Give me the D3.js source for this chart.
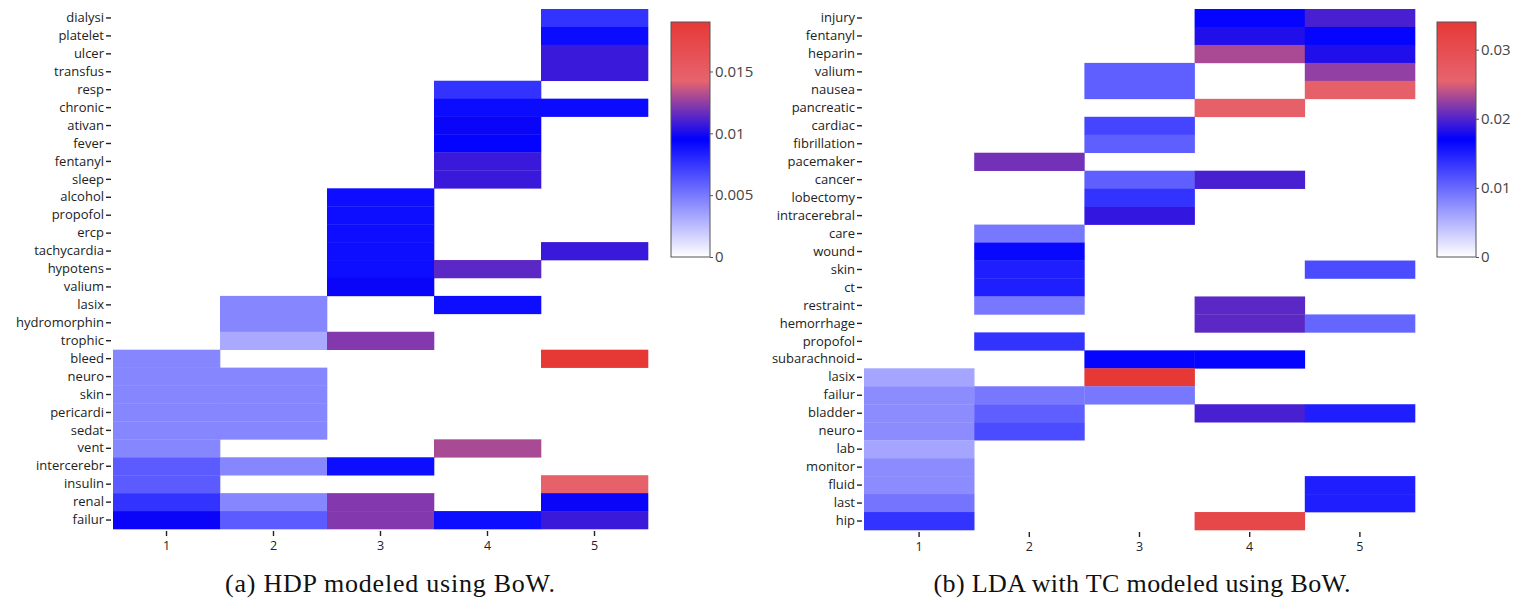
<!DOCTYPE html>
<html>
<head>
<meta charset="utf-8">
<script src="https://cdn.jsdelivr.net/npm/d3@7.9.0/dist/d3.min.js"></script>
<style>
  body { margin: 0; background: #fff; }
  svg { display: block; }
  .tick text { font-family: "Open Sans", "DejaVu Sans", sans-serif; }
</style>
</head>
<body>
<div id="chart"></div>
<script>
// topics on the x axis
const topics = [1, 2, 3, 4, 5];

// (a) HDP, rows top to bottom, one value per topic (null = empty cell)
const hdpWords = ['dialysi', 'platelet', 'ulcer', 'transfus', 'resp', 'chronic', 'ativan', 'fever',
  'fentanyl', 'sleep', 'alcohol', 'propofol', 'ercp', 'tachycardia', 'hypotens', 'valium', 'lasix',
  'hydromorphin', 'trophic', 'bleed', 'neuro', 'skin', 'pericardi', 'sedat', 'vent', 'intercerebr',
  'insulin', 'renal', 'failur'];
const hdpValues = [
  [null, null, null, null, 0.0076],
  [null, null, null, null, 0.0091],
  [null, null, null, null, 0.0107],
  [null, null, null, null, 0.0107],
  [null, null, null, 0.0076, null],
  [null, null, null, 0.0091, 0.0091],
  [null, null, null, 0.0097, null],
  [null, null, null, 0.0094, null],
  [null, null, null, 0.0107, null],
  [null, null, null, 0.0107, null],
  [null, null, 0.0090, null, null],
  [null, null, 0.0090, null, null],
  [null, null, 0.0090, null, null],
  [null, null, 0.0090, null, 0.0107],
  [null, null, 0.0090, 0.0114, null],
  [null, null, 0.0097, null, null],
  [null, 0.0045, null, 0.0090, null],
  [null, 0.0045, null, null, null],
  [null, 0.0032, 0.0122, null, null],
  [0.0045, null, null, null, 0.0190],
  [0.0045, 0.0045, null, null, null],
  [0.0045, 0.0045, null, null, null],
  [0.0045, 0.0045, null, null, null],
  [0.0045, 0.0045, null, null, null],
  [0.0045, null, null, 0.0130, null],
  [0.0061, 0.0045, 0.0090, null, null],
  [0.0061, null, null, null, 0.0146],
  [0.0076, 0.0045, 0.0122, null, 0.0097],
  [0.0097, 0.0061, 0.0122, 0.0090, 0.0107]
];
const hdpMax = 0.019;
const hdpTicks = [0, 0.005, 0.01, 0.015];

// (b) LDA with TC
const ldaWords = ['injury', 'fentanyl', 'heparin', 'valium', 'nausea', 'pancreatic', 'cardiac',
  'fibrillation', 'pacemaker', 'cancer', 'lobectomy', 'intracerebral', 'care', 'wound', 'skin', 'ct',
  'restraint', 'hemorrhage', 'propofol', 'subarachnoid', 'lasix', 'failur', 'bladder', 'neuro', 'lab',
  'monitor', 'fluid', 'last', 'hip'];
const ldaValues = [
  [null, null, null, 0.0167, 0.0197],
  [null, null, null, 0.0182, 0.0167],
  [null, null, null, 0.0233, 0.0182],
  [null, null, 0.0107, null, 0.0224],
  [null, null, 0.0107, null, 0.0262],
  [null, null, null, 0.0262, null],
  [null, null, 0.0124, null, null],
  [null, null, 0.0107, null, null],
  [null, 0.0212, null, null, null],
  [null, null, 0.0107, 0.0197, null],
  [null, null, 0.0136, null, null],
  [null, null, 0.0189, null, null],
  [null, 0.0090, null, null, null],
  [null, 0.0165, null, null, null],
  [null, 0.0150, null, null, 0.0120],
  [null, 0.0150, null, null, null],
  [null, 0.0090, null, 0.0204, null],
  [null, null, null, 0.0204, 0.0103],
  [null, 0.0136, null, null, null],
  [null, null, 0.0167, 0.0167, null],
  [0.0060, null, 0.0340, null, null],
  [0.0077, 0.0090, 0.0090, null, null],
  [0.0077, 0.0107, null, 0.0197, 0.0150],
  [0.0077, 0.0120, null, null, null],
  [0.0060, null, null, null, null],
  [0.0077, null, null, null, null],
  [0.0077, null, null, null, 0.0150],
  [0.0093, null, null, null, 0.0150],
  [0.0136, null, null, 0.0310, null]
];
const ldaMax = 0.034;
const ldaTicks = [0, 0.01, 0.02, 0.03];

const captions = ['(a) HDP modeled using BoW.', '(b) LDA with TC modeled using BoW.'];

// colour stops as fractions of the max
const stopFrac = [0, 0.5, 0.75, 1];
const stopColor = ['#ffffff', '#0000ff', '#e6646e', '#e63936'];

const width = 1529;
const height = 602;

const svg = d3.select('#chart')
  .append('svg')
  .attr('width', width)
  .attr('height', height);

const defs = svg.append('defs');

const panels = [
  { id: 'a', words: hdpWords, values: hdpValues, max: hdpMax, ticks: hdpTicks, caption: captions[0],
    left: 113, right: 648, top: 9, bottom: 529, cbX: 671, capX: 390, capW: 330 },
  { id: 'b', words: ldaWords, values: ldaValues, max: ldaMax, ticks: ldaTicks, caption: captions[1],
    left: 864, right: 1415, top: 9, bottom: 530, cbX: 1437, capX: 1142, capW: 417 }
];

panels.forEach((p) => drawPanel(p));

function drawPanel(p) {
  const g = svg.append('g').attr('class', 'panel-' + p.id);

  const x = d3.scaleBand().domain(topics).range([p.left, p.right]);
  const y = d3.scaleBand().domain(p.words).range([p.top, p.bottom]);
  const color = d3.scaleLinear()
    .domain(stopFrac.map((f) => f * p.max))
    .range(stopColor)
    .interpolate(d3.interpolateRgb)
    .clamp(true);

  const cells = [];
  p.words.forEach((w, i) => {
    p.values[i].forEach((v, j) => {
      if (v != null) cells.push({ word: w, topic: topics[j], value: v });
    });
  });

  g.append('g')
    .selectAll('rect')
    .data(cells)
    .join('rect')
    .attr('x', (d) => x(d.topic))
    .attr('y', (d) => y(d.word))
    .attr('width', x.bandwidth() + 0.3)
    .attr('height', y.bandwidth() + 0.3)
    .attr('fill', (d) => color(d.value));

  // y axis
  const yAxis = g.append('g')
    .attr('transform', `translate(${p.left - 2},0)`)
    .call(d3.axisLeft(y).tickSize(5).tickPadding(2));
  yAxis.select('.domain').remove();
  yAxis.selectAll('.tick line').attr('stroke', '#222').attr('stroke-width', 1.4);
  yAxis.selectAll('.tick text')
    .attr('fill', '#222')
    .style('font-size', '13px');

  // x axis
  const xAxis = g.append('g')
    .attr('transform', `translate(0,${p.bottom + 2})`)
    .call(d3.axisBottom(x).tickSize(5).tickPadding(5));
  xAxis.select('.domain').remove();
  xAxis.selectAll('.tick line').attr('stroke', '#222').attr('stroke-width', 1.4);
  xAxis.selectAll('.tick text')
    .attr('fill', '#222')
    .style('font-size', '12.5px');

  // colour bar
  const cbTop = 22;
  const cbBottom = 257;
  const cbW = 39;
  const gradId = 'grad-' + p.id;
  const grad = defs.append('linearGradient')
    .attr('id', gradId)
    .attr('x1', 0).attr('y1', 1).attr('x2', 0).attr('y2', 0);
  grad.selectAll('stop')
    .data(stopFrac)
    .join('stop')
    .attr('offset', (d) => d)
    .attr('stop-color', (d, i) => stopColor[i]);

  const cScale = d3.scaleLinear().domain([0, p.max]).range([cbBottom, cbTop]);

  g.append('rect')
    .attr('x', p.cbX)
    .attr('y', cbTop)
    .attr('width', cbW)
    .attr('height', cbBottom - cbTop)
    .attr('fill', `url(#${gradId})`)
    .attr('stroke', '#555')
    .attr('stroke-width', 1);

  const cAxis = g.append('g')
    .attr('transform', `translate(${p.cbX + cbW},0)`)
    .call(d3.axisRight(cScale).tickValues(p.ticks).tickFormat((d) => String(+d.toFixed(4))).tickSize(3).tickPadding(2));
  cAxis.select('.domain').remove();
  cAxis.selectAll('.tick line').attr('stroke', '#555');
  cAxis.selectAll('.tick text')
    .attr('fill', '#444')
    .style('font-size', '15px');

  // caption
  svg.append('text')
    .attr('x', p.capX)
    .attr('y', 592)
    .attr('text-anchor', 'middle')
    .attr('font-family', '"Liberation Serif", "DejaVu Serif", serif')
    .attr('font-size', 26)
    .attr('textLength', p.capW)
    .attr('lengthAdjust', 'spacing')
    .attr('fill', '#111')
    .text(p.caption);
}
</script>
</body>
</html>
